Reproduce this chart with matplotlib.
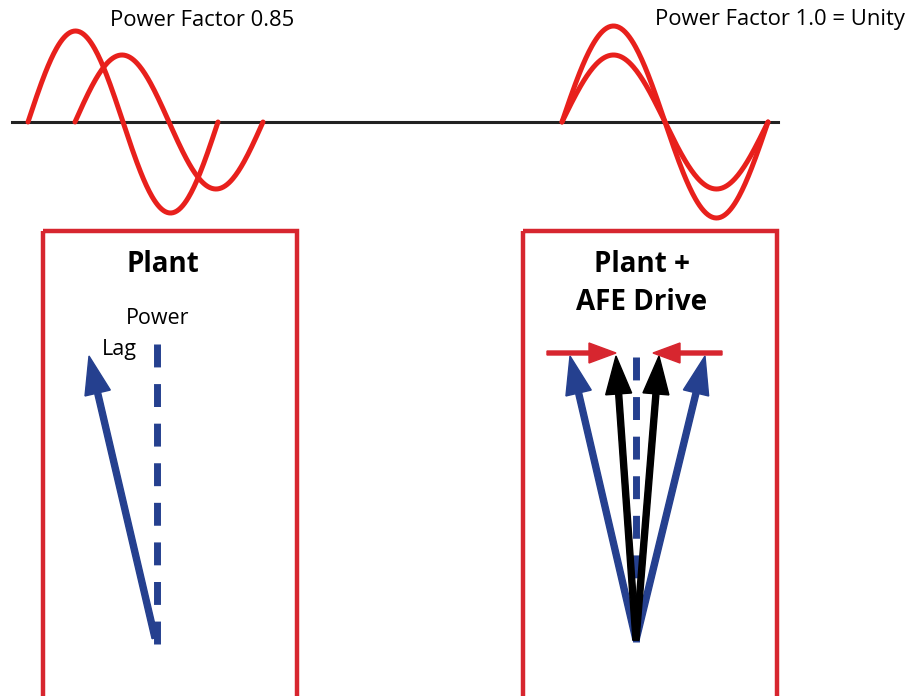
import numpy as np
import matplotlib.pyplot as plt
import matplotlib.patches as patches

# wave parameters: x start, x end, amplitude (pixels), baseline y
wave_left_starts = [28, 75]
wave_left_ends = [218, 263]
wave_left_amps = [91, 67]
wave_right_starts = [562, 562]
wave_right_ends = [768, 768]
wave_right_amps = [96, 67]
axis_y = 122

titles = ["Power Factor 0.85", "Power Factor 1.0 = Unity"]
box_labels = ["Plant", "Plant +", "AFE Drive"]

# phasor tips (x, y) and common origins
left_origin = (155, 638)
left_tips = [(89, 356)]
right_origin = (636, 640)
blue_tips = [(570, 356), (705, 356)]
black_tips = [(616, 356), (659, 356)]

RED = "#e8201c"
BOX_RED = "#d7262f"
BLUE = "#25408f"

plt.rcParams['font.family'] = ['Open Sans', 'DejaVu Sans']
fig = plt.figure(figsize=(9.14, 6.96), dpi=100)
ax = fig.add_axes([0, 0, 1, 1])
ax.set_xlim(0, 914)
ax.set_ylim(696, 0)
ax.axis('off')

# horizontal axis line
ax.plot([12, 778], [axis_y, axis_y], color="#222222", lw=2.2, zorder=2)

def draw_wave(x0, x1, amp):
    x = np.linspace(x0, x1, 200)
    y = axis_y - amp * np.sin(2 * np.pi * (x - x0) / (x1 - x0))
    ax.plot(x, y, color=RED, lw=3.6, solid_capstyle='round', zorder=3)

for s, e, a in zip(wave_left_starts, wave_left_ends, wave_left_amps):
    draw_wave(s, e, a)
for s, e, a in zip(wave_right_starts, wave_right_ends, wave_right_amps):
    draw_wave(s, e, a)

ax.text(110, 20, titles[0], fontsize=15.8, va='center', ha='left')
ax.text(655, 20, titles[1], fontsize=15.8, va='center', ha='left')

# boxes
for bx in [43, 523]:
    ax.add_patch(patches.Rectangle((bx, 231), 254, 480, fill=False,
                                   edgecolor=BOX_RED, lw=3.2, zorder=1))

ax.text(163, 265, box_labels[0], fontsize=20, fontweight='bold', ha='center', va='center')
ax.text(642, 265, box_labels[1], fontsize=20, fontweight='bold', ha='center', va='center')
ax.text(642, 302, box_labels[2], fontsize=20, fontweight='bold', ha='center', va='center')
ax.text(126, 318, "Power", fontsize=15.5, ha='left', va='center')
ax.text(102, 350, "Lag", fontsize=15.5, ha='left', va='center')

# dashed reference phasors
ax.plot([157, 157], [344, 646], color=BLUE, lw=5, dashes=(3.3, 2.4), zorder=2)
ax.plot([636, 636], [357, 642], color=BLUE, lw=5, dashes=(3.3, 2.4), zorder=2)

def phasor(origin, tip, color):
    dx = tip[0] - origin[0]
    dy = tip[1] - origin[1]
    ax.arrow(origin[0], origin[1], dx, dy, width=6, head_width=26, head_length=38,
             length_includes_head=True, color=color, zorder=4)

for t in left_tips:
    phasor(left_origin, t, BLUE)
for t in blue_tips:
    phasor(right_origin, t, BLUE)
for t in black_tips:
    phasor(right_origin, t, "black")

# red arrows pulling towards unity
ax.arrow(547, 353, 69, 0, width=4, head_width=20, head_length=27,
         length_includes_head=True, color=BOX_RED, zorder=5)
ax.arrow(722, 353, -69, 0, width=4, head_width=20, head_length=27,
         length_includes_head=True, color=BOX_RED, zorder=5)

fig.savefig("out.png", dpi=100)
